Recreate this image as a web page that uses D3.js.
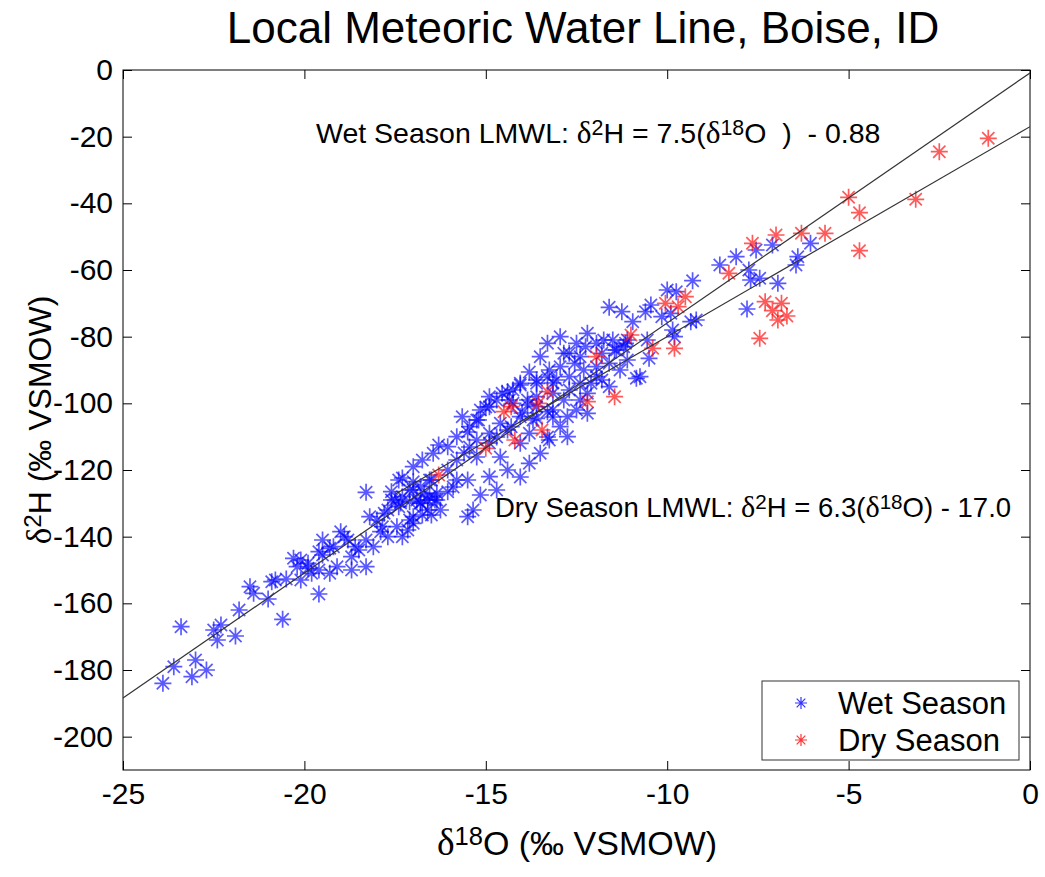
<!DOCTYPE html>
<html>
<head>
<meta charset="utf-8">
<script src="https://cdn.jsdelivr.net/npm/d3@7"></script>
<style>
  body { margin: 0; background: #fff; }
  text { font-family: "Liberation Sans", Arial, sans-serif; fill: #000; white-space: pre; }
  .sym { font-family: "Liberation Serif", "Times New Roman", serif; }
</style>
</head>
<body>
<div id="chart"></div>
<script>
// Data: [d18O, d2H]
const wetSeason = [
  [-23.9,-184],[-23.6,-179],[-23.4,-167],[-23.1,-182],[-23.0,-177],[-22.7,-180],[-22.5,-168],[-22.4,-171],
  [-22.3,-166.5],[-21.9,-169.8],[-21.8,-162],[-21.5,-155],[-21.4,-157],[-21.0,-158.7],[-20.9,-153.5],[-20.8,-153],
  [-20.5,-152.7],[-20.6,-164.8],[-20.3,-146.5],[-20.2,-149],[-20.1,-153],[-19.9,-148],[-19.8,-151],[-19.6,-157.2],
  [-19.6,-144.5],[-19.5,-145.5],[-19.3,-143.5],[-19.6,-150],[-19.3,-151],[-19.1,-149],[-19.0,-138.5],[-18.9,-140],
  [-18.8,-141],[-18.7,-146],[-18.7,-150],[-18.6,-143],[-18.5,-144],[-18.3,-149],[-18.3,-126.7],[-18.3,-141],
  [-18.1,-143],[-18.2,-134],[-18.0,-135],[-17.9,-138.5],[-17.8,-133],[-17.7,-140],[-17.6,-126.5],[-17.5,-129],
  [-17.4,-123],[-17.4,-131],[-17.3,-140],[-17.3,-128],[-17.1,-135],[-17.1,-126],[-17.0,-136],[-16.9,-129],
  [-16.8,-130],[-16.7,-127],[-16.6,-132],[-16.5,-133.5],[-16.5,-123],[-16.4,-129],[-16.3,-112.5],
  [-15.5,-108.6],[-15.2,-105],[-15.0,-101.1],[-14.7,-99],[-14.25,-96],[-13.8,-90.6],[-13.6,-93],[-13.3,-92.1],
  [-13.15,-93.9],[-14.0,-102.9],[-13.7,-105],[-13.3,-110.1],[-13.15,-104.1],[-14.05,-122.1],[-15.15,-127.5],
  [-15.35,-132],[-17.3,-122.4],[-17.0,-126],[-16.55,-123],[-16.05,-120],[-15.8,-117],[-15.6,-114.9],[-15.45,-113.1],
  [-15.25,-116.1],[-14.9,-111.9],[-14.6,-116.1],[-14.7,-110.1],[-14.4,-108],[-15.5,-123],[-15.9,-125.1],
  [-16.35,-129],[-16.8,-129.9],[-17.35,-129.9],[-17.7,-132],
  [-12.85,-85],[-12.55,-88],[-12.2,-79],[-12.25,-83],[-12.7,-92],[-12.4,-94],[-13.05,-93],[-12.7,-96],
  [-12.2,-97],[-11.8,-93],[-11.6,-95],[-11.95,-92],[-11.4,-84],[-11.2,-83],[-11.8,-85],[-11.6,-88],
  [-10.85,-92.5],[-13.85,-99],[-13.6,-101],[-13.15,-102],[-12.75,-104],[-12.5,-102],[-12.95,-107],[-13.25,-111],
  [-12.75,-110],[-12.2,-103],[-14.05,-104],[-14.6,-106],[-14.9,-109],[-15.25,-111],[-14.35,-99],[-13.6,-94],
  [-13.25,-90],[-12.95,-89],[-12.4,-86],[-12.3,-90],[-12.1,-94],[-12.5,-82],
  [-8.1,-56],[-8.55,-58.5],[-9.3,-63.2],[-10.0,-66],[-9.75,-66.5],[-10.45,-70.5],[-10.6,-72.5],[-11.6,-71.2],
  [-11.25,-72.5],[-10.95,-75.5],[-10.15,-74],[-9.9,-73],[-9.35,-75.5],[-9.2,-75],[-9.85,-78],[-9.8,-80],
  [-10.75,-92],[-10.55,-81],[-10.5,-86.5],[-11.15,-82],[-11.45,-84],
  [-7.1,-52.5],[-7.55,-54],[-6.05,-52],[-6.4,-56],[-6.45,-58.5],[-7.75,-60],[-7.7,-63],[-7.45,-62.5],
  [-6.95,-64],[-7.8,-71.7],
  // dense band, second pass
  [-17.6,-129],[-17.85,-137],[-17.45,-137],[-17.15,-138],[-17.0,-134],[-16.75,-133.5],[-16.6,-129],[-17.0,-123.5],
  [-16.8,-125],[-16.35,-127],[-16.25,-132],[-19.2,-143],[-19.5,-141],[-19.9,-149.5],[-20.1,-147],
  [-17.0,-119],[-16.75,-117],[-16.45,-115],[-16.05,-113],[-15.8,-110],[-15.45,-107],[-15.65,-104],[-15.15,-102],
  [-14.9,-98],[-14.4,-96.5],[-14.05,-94],[-14.25,-100],[-13.85,-100.5],[-13.6,-98],[-13.3,-102.5],[-13.5,-115],
  [-13.8,-118],[-14.4,-120],[-14.9,-122],[-14.7,-126],[-15.8,-123],[-16.05,-126.5],[-16.55,-128],[-17.1,-129.5],
  [-15.5,-134],
  [-14.05,-94.5],[-14.55,-97],[-14.9,-101],[-15.25,-105],[-13.5,-86],[-13.3,-82],[-12.95,-80],[-12.7,-85],
  [-11.95,-82],[-11.75,-81],[-11.5,-81],[-11.1,-81],[-11.95,-89],[-11.3,-90],[-11.1,-87],[-13.15,-97],
  [-13.6,-104.5],[-14.3,-107],[-13.8,-109],[-14.05,-112],[-12.4,-99],[-12.85,-99]
];

const drySeason = [
  [-16.3,-121.5],[-15.0,-113.5],[-14.5,-102.5],[-14.3,-101],[-14.2,-111],[-13.55,-100],[-13.45,-108],[-13.3,-96.5],
  [-12.2,-99.5],[-11.45,-98],[-11.95,-86],[-11.0,-79.5],[-10.4,-83.5],[-9.8,-83.5],[-10.05,-70],[-9.7,-71],
  [-9.5,-68],[-8.3,-61],[-7.65,-52],[-7.0,-49.5],[-6.3,-49],[-5.65,-49],[-4.7,-54.2],[-7.3,-69.5],
  [-6.85,-70],[-7.1,-72.2],[-6.7,-73.8],[-6.95,-75],[-7.45,-80.5],[-5.0,-38.2],[-4.7,-42.8],[-3.15,-38.8],
  [-2.5,-24.5],[-1.15,-20.5]
];

// regression lines: slope, intercept, x extent
const wetLine = { slope: 7.5, intercept: -0.88, from: -25, to: 0 };
const dryLine = { slope: 6.3, intercept: -17.0, from: -17.5, to: 0 };

const xTicks = [-25, -20, -15, -10, -5, 0];
const yTicks = [-200, -180, -160, -140, -120, -100, -80, -60, -40, -20, 0];

const width = 1045, height = 877;
const margin = { top: 70, right: 15, bottom: 107, left: 123 };

const svg = d3.select("#chart").append("svg")
    .attr("width", width)
    .attr("height", height);

const x = d3.scaleLinear().domain([-25, 0]).range([margin.left, width - margin.right]);
const y = d3.scaleLinear().domain([-210, 0]).range([height - margin.bottom, margin.top]);

const plotW = x.range()[1] - x.range()[0];
const plotH = y.range()[0] - y.range()[1];
const tickLen = 9;
const fmt = d => String(d);   // plain hyphen minus, like the original

// Axes (ticks inward, mirrored on the opposite sides)
const axisFont = "30px";
svg.append("g")
    .attr("transform", `translate(0,${y(-210)})`)
    .call(d3.axisBottom(x).tickValues(xTicks).tickSizeInner(-tickLen).tickSizeOuter(0).tickPadding(13).tickFormat(fmt))
    .call(g => g.select(".domain").remove())
    .call(g => g.selectAll("text").style("font-size", axisFont).style("font-family", "Liberation Sans, Arial, sans-serif"));

svg.append("g")
    .attr("transform", `translate(0,${y(0)})`)
    .call(d3.axisTop(x).tickValues(xTicks).tickSizeInner(-tickLen).tickSizeOuter(0).tickFormat(""))
    .call(g => g.select(".domain").remove());

svg.append("g")
    .attr("transform", `translate(${x(-25)},0)`)
    .call(d3.axisLeft(y).tickValues(yTicks).tickSizeInner(-tickLen).tickSizeOuter(0).tickPadding(10).tickFormat(fmt))
    .call(g => g.select(".domain").remove())
    .call(g => g.selectAll("text").style("font-size", axisFont).style("font-family", "Liberation Sans, Arial, sans-serif"));

svg.append("g")
    .attr("transform", `translate(${x(0)},0)`)
    .call(d3.axisRight(y).tickValues(yTicks).tickSizeInner(-tickLen).tickSizeOuter(0).tickFormat(""))
    .call(g => g.select(".domain").remove());

svg.append("rect")
    .attr("x", x(-25)).attr("y", y(0))
    .attr("width", plotW).attr("height", plotH)
    .attr("fill", "none").attr("stroke", "#000").attr("stroke-width", 1);

// Asterisk marker path
function asterisk(r) {
    const d = r * 0.72;
    return `M${-r},0H${r}M0,${-r}V${r}M${-d},${-d}L${d},${d}M${-d},${d}L${d},${-d}`;
}

const clipId = "plotclip";
svg.append("clipPath").attr("id", clipId)
  .append("rect").attr("x", x(-25)).attr("y", y(0)).attr("width", plotW).attr("height", plotH);

const plot = svg.append("g").attr("clip-path", `url(#${clipId})`);

// Data markers
const markerR = 8.5;
plot.append("g").selectAll("path")
    .data(wetSeason)
    .enter().append("path")
    .attr("transform", d => `translate(${x(d[0])},${y(d[1])})`)
    .attr("d", asterisk(markerR))
    .attr("stroke", "#0000ff")
    .attr("stroke-opacity", 0.65)
    .attr("stroke-width", 1.7)
    .attr("fill", "none");

plot.append("g").selectAll("path")
    .data(drySeason)
    .enter().append("path")
    .attr("transform", d => `translate(${x(d[0])},${y(d[1])})`)
    .attr("d", asterisk(markerR))
    .attr("stroke", "#ff0000")
    .attr("stroke-opacity", 0.65)
    .attr("stroke-width", 1.7)
    .attr("fill", "none");

// LMWL lines
[wetLine, dryLine].forEach(l => {
    plot.append("line")
        .attr("x1", x(l.from)).attr("y1", y(l.slope * l.from + l.intercept))
        .attr("x2", x(l.to)).attr("y2", y(l.slope * l.to + l.intercept))
        .attr("stroke", "#333")
        .attr("stroke-width", 1.2);
});

// Title
svg.append("text")
    .attr("x", 583).attr("y", 43)
    .attr("text-anchor", "middle")
    .style("font-size", "44px")
    .text("Local Meteoric Water Line, Boise, ID");

// helper for delta + superscript pieces
function richText(sel, parts, size) {
    parts.forEach(p => {
        const t = sel.append("tspan").text(p.t);
        if (p.sym) t.attr("class", "sym").style("font-size", (size * 1.1) + "px");
        if (p.sup) t.attr("baseline-shift", "40%").style("font-size", (size * 0.75) + "px");
    });
}

// Equations
const wetEq = svg.append("text").attr("x", 316).attr("y", 143).style("font-size", "28.5px");
richText(wetEq, [
    { t: "Wet Season LMWL: " }, { t: "δ", sym: true }, { t: "2", sup: true },
    { t: "H = 7.5(" }, { t: "δ", sym: true }, { t: "18", sup: true }, { t: "O  )  - 0.88" }
], 28.5);

const dryEq = svg.append("text").attr("x", 495).attr("y", 517).style("font-size", "27.5px");
richText(dryEq, [
    { t: "Dry Season LMWL: " }, { t: "δ", sym: true }, { t: "2", sup: true },
    { t: "H = 6.3(" }, { t: "δ", sym: true }, { t: "18", sup: true }, { t: "O) - 17.0" }
], 27.5);

// Axis labels
const xLab = svg.append("text")
    .attr("x", 577).attr("y", 855)
    .attr("text-anchor", "middle")
    .style("font-size", "34px");
richText(xLab, [{ t: "δ", sym: true }, { t: "18", sup: true }, { t: "O (‰ VSMOW)" }], 34);

const yLab = svg.append("text")
    .attr("transform", "translate(51,420) rotate(-90)")
    .attr("text-anchor", "middle")
    .style("font-size", "32px");
richText(yLab, [{ t: "δ", sym: true }, { t: "2", sup: true }, { t: "H (‰ VSMOW)" }], 32);

// Legend
const legend = svg.append("g");
legend.append("rect")
    .attr("x", 762).attr("y", 681).attr("width", 257).attr("height", 79)
    .attr("fill", "#fff").attr("stroke", "#333").attr("stroke-width", 1);
[["Wet Season", "#0000ff", 703], ["Dry Season", "#ff0000", 740]].forEach(([name, color, cy]) => {
    legend.append("path")
        .attr("transform", `translate(801,${cy})`)
        .attr("d", asterisk(6))
        .attr("stroke", color).attr("stroke-opacity", 0.8).attr("stroke-width", 1.2)
        .attr("fill", "none");
    legend.append("text")
        .attr("x", 838).attr("y", cy + 11)
        .style("font-size", "31px")
        .text(name);
});
</script>
</body>
</html>
